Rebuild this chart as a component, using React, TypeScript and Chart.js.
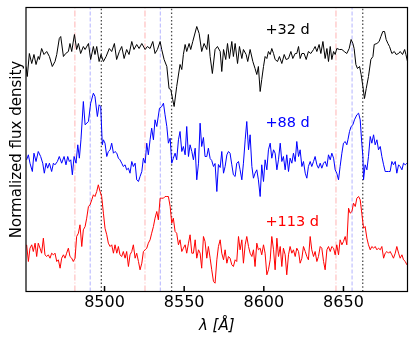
import React, { useEffect, useRef } from 'react';
import { Chart, registerables } from 'chart.js';

Chart.register(...registerables);

// ---- data (offset, normalized flux) ----
const waveBlack = [8450.7,8451.5,8452.8,8454.3,8455.7,8457.0,8458.4,8459.1,8460.5,8462.0,8463.7,8465.4,8467.2,8468.9,8470.0,8471.6,8472.5,8474.2,8475.6,8477.3,8478.3,8479.4,8481.1,8482.5,8483.6,8485.0,8486.7,8487.8,8489.9,8491.3,8493.0,8494.0,8495.1,8496.6,8497.8,8499.3,8501.0,8503.0,8504.5,8506.2,8507.6,8509.3,8510.8,8512.3,8513.9,8515.4,8517.1,8518.5,8520.2,8521.7,8523.4,8525.5,8526.9,8528.6,8530.3,8531.7,8533.2,8534.9,8535.9,8537.4,8539.1,8540.5,8541.6,8542.8,8543.7,8545.3,8547.4,8548.5,8549.5,8550.6,8551.6,8553.1,8554.1,8555.4,8557.9,8559.4,8561.0,8562.5,8564.2,8565.2,8566.3,8567.7,8569.4,8570.9,8572.6,8573.6,8574.7,8576.1,8577.2,8578.4,8579.9,8580.9,8582.0,8583.5,8584.7,8586.2,8587.2,8588.9,8589.9,8591.4,8593.1,8594.5,8595.6,8596.6,8597.7,8598.7,8599.8,8600.8,8601.9,8602.9,8604.0,8605.0,8606.1,8607.1,8608.6,8609.8,8611.3,8612.8,8614.0,8615.5,8617.0,8618.2,8619.7,8620.7,8621.8,8622.8,8623.9,8625.3,8626.6,8628.0,8629.5,8631.2,8632.2,8633.3,8634.7,8635.8,8637.1,8638.5,8639.6,8640.6,8641.7,8642.7,8643.8,8644.8,8645.8,8647.5,8649.0,8650.5,8652.1,8653.6,8654.8,8655.9,8656.7,8657.8,8658.8,8660.1,8661.1,8662.2,8663.2,8664.3,8665.7,8667.2,8668.5,8669.3,8671.0,8672.4,8673.5,8674.7,8675.8,8676.8,8677.9,8678.9,8680.4,8681.9,8683.1,8684.6,8685.6,8687.1,8688.4,8689.2,8690.2];
const fluxBlack = [2.25,2.15,2.38,2.28,2.37,2.27,2.35,2.32,2.43,2.37,2.40,2.35,2.25,2.30,2.37,2.53,2.55,2.35,2.38,2.40,2.48,2.40,2.57,2.42,2.48,2.38,2.45,2.42,2.48,2.32,2.45,2.37,2.45,2.30,2.37,2.30,2.35,2.43,2.40,2.48,2.32,2.40,2.45,2.33,2.42,2.37,2.50,2.42,2.47,2.43,2.48,2.42,2.45,2.43,2.50,2.38,2.42,2.50,2.42,2.32,2.25,2.03,2.02,1.92,1.85,2.05,2.27,2.22,2.37,2.47,2.40,2.48,2.42,2.50,2.65,2.58,2.40,2.48,2.42,2.57,2.35,2.18,2.42,2.45,2.40,2.20,2.42,2.32,2.48,2.33,2.50,2.35,2.48,2.28,2.45,2.33,2.42,2.37,2.30,2.42,2.30,2.23,2.17,2.25,2.00,2.12,2.25,2.35,2.33,2.40,2.37,2.43,2.38,2.32,2.30,2.35,2.28,2.37,2.32,2.33,2.40,2.33,2.38,2.38,2.45,2.33,2.38,2.38,2.32,2.40,2.38,2.42,2.45,2.40,2.47,2.38,2.50,2.33,2.43,2.30,2.45,2.32,2.40,2.37,2.43,2.42,2.42,2.40,2.38,2.43,2.52,2.48,2.43,2.27,2.23,2.25,2.17,2.05,1.93,2.03,2.15,2.32,2.35,2.47,2.48,2.50,2.55,2.60,2.60,2.52,2.48,2.45,2.38,2.40,2.37,2.38,2.40,2.37,2.42,2.37,2.30];

const waveBlue = [8451.1,8452.2,8453.2,8454.7,8455.7,8457.0,8458.4,8459.9,8461.2,8462.2,8463.3,8464.3,8465.4,8466.8,8467.9,8468.9,8470.4,8471.6,8473.1,8474.6,8475.8,8476.9,8477.9,8478.8,8479.8,8480.9,8482.1,8483.2,8484.2,8485.2,8486.7,8487.8,8489.9,8491.3,8493.0,8494.0,8495.5,8496.6,8497.6,8498.6,8499.3,8500.3,8501.4,8502.4,8503.5,8504.5,8505.6,8506.6,8507.7,8508.7,8509.7,8510.8,8511.8,8512.9,8513.9,8515.0,8516.0,8517.1,8518.1,8519.2,8520.2,8521.3,8522.3,8523.4,8524.4,8525.5,8526.5,8527.5,8528.6,8529.6,8530.7,8531.7,8532.8,8534.5,8535.9,8537.0,8538.0,8539.1,8540.1,8541.2,8542.2,8543.2,8544.3,8545.3,8546.4,8547.4,8548.5,8549.5,8550.6,8551.6,8552.7,8553.7,8554.8,8555.8,8556.9,8557.9,8559.0,8560.0,8561.0,8562.1,8563.1,8564.2,8565.2,8566.3,8567.3,8568.4,8569.4,8570.5,8571.5,8572.6,8573.6,8574.7,8575.7,8576.8,8577.8,8578.8,8579.9,8580.9,8582.0,8583.0,8584.1,8585.1,8586.2,8587.2,8588.3,8589.3,8590.4,8591.4,8592.5,8593.5,8594.5,8595.6,8596.6,8597.7,8598.7,8599.8,8600.8,8601.9,8602.9,8604.0,8605.0,8606.1,8607.1,8608.2,8609.2,8610.3,8611.3,8612.3,8613.4,8614.4,8615.5,8616.5,8617.6,8618.6,8619.7,8620.7,8621.8,8622.8,8623.9,8624.9,8626.0,8627.0,8628.0,8629.1,8630.1,8631.2,8632.2,8633.3,8634.3,8635.4,8636.4,8637.5,8638.5,8639.6,8640.6,8641.7,8642.7,8643.8,8644.8,8645.8,8646.9,8647.9,8649.0,8650.0,8651.1,8652.1,8652.8,8653.8,8654.8,8655.9,8656.9,8658.4,8659.5,8660.5,8661.5,8662.2,8662.6,8663.6,8664.7,8665.7,8666.8,8667.8,8668.9,8669.9,8671.0,8672.0,8673.1,8674.1,8675.2,8676.2,8677.3,8678.3,8679.3,8680.4,8681.4,8682.5,8683.5,8684.6,8685.6,8686.7,8687.7,8688.8,8689.8];
const fluxBlue = [1.317,1.367,1.283,1.200,1.383,1.300,1.400,1.350,1.283,1.183,1.283,1.233,1.283,1.200,1.283,1.267,1.300,1.350,1.283,1.350,1.267,1.350,1.300,1.317,1.167,1.350,1.283,1.467,1.333,1.517,1.900,1.667,1.700,1.883,1.983,1.950,1.750,1.867,1.850,1.467,1.517,1.483,1.350,1.400,1.417,1.483,1.383,1.400,1.383,1.333,1.317,1.283,1.250,1.267,1.217,1.233,1.183,1.300,1.250,1.283,1.117,1.100,1.150,1.200,1.333,1.283,1.483,1.367,1.517,1.633,1.517,1.717,1.650,1.833,1.850,1.883,1.767,1.650,1.483,1.533,1.283,1.333,1.383,1.317,1.517,1.600,1.400,1.450,1.367,1.650,1.350,1.467,1.400,1.317,1.433,1.117,1.283,1.683,1.450,1.540,1.350,1.350,1.433,1.330,1.310,1.250,1.280,1.000,1.270,1.240,1.400,1.183,1.250,1.367,1.400,1.383,1.267,1.167,1.150,1.283,1.300,1.217,1.117,1.283,1.517,1.700,1.417,1.567,1.250,1.133,1.183,1.217,1.117,0.950,1.267,1.100,1.317,1.217,1.417,1.483,1.333,1.417,1.383,1.217,1.317,1.483,1.300,1.350,1.217,1.367,1.200,1.333,1.283,1.383,1.300,1.500,1.350,1.417,1.250,1.300,1.183,1.133,1.250,1.300,1.250,1.300,1.350,1.267,1.233,1.283,1.233,1.283,1.300,1.250,1.367,1.317,1.383,1.333,1.217,1.183,1.117,1.250,1.383,1.483,1.500,1.467,1.517,1.600,1.650,1.667,1.717,1.767,1.783,1.717,1.483,1.350,1.117,1.267,1.217,1.350,1.550,1.483,1.567,1.467,1.517,1.417,1.450,1.350,1.267,1.200,1.200,1.200,1.200,1.300,1.267,1.300,1.183,1.267,1.250,1.217,1.283,1.267,1.283];

const waveRed = [8451.1,8452.2,8453.2,8454.3,8455.3,8456.4,8457.4,8458.4,8459.5,8460.5,8461.6,8462.6,8463.7,8464.7,8465.8,8466.8,8467.9,8468.9,8470.0,8471.0,8472.1,8473.1,8474.2,8475.2,8476.2,8477.3,8478.3,8479.4,8480.4,8481.5,8482.5,8483.6,8484.6,8485.7,8486.7,8487.8,8488.8,8489.9,8490.9,8492.0,8493.0,8494.0,8495.1,8496.1,8497.2,8498.2,8499.3,8500.3,8501.4,8502.4,8503.5,8504.5,8505.6,8506.6,8507.7,8508.7,8509.7,8510.8,8511.8,8512.9,8513.9,8515.0,8516.0,8517.1,8518.1,8519.2,8520.2,8521.3,8522.3,8523.4,8524.4,8525.5,8526.5,8527.5,8528.6,8529.6,8530.7,8531.7,8532.8,8533.8,8534.9,8535.9,8537.0,8538.0,8539.1,8540.1,8541.2,8542.2,8543.2,8544.3,8545.3,8546.4,8547.4,8548.5,8549.5,8550.6,8551.6,8552.7,8553.7,8554.8,8555.8,8556.9,8557.9,8559.0,8560.0,8561.0,8562.1,8563.1,8564.2,8565.2,8566.3,8567.3,8568.4,8569.4,8570.5,8571.5,8572.6,8573.6,8574.7,8575.7,8576.8,8577.8,8578.8,8579.9,8580.9,8582.0,8583.0,8584.1,8585.1,8586.2,8587.2,8588.3,8589.3,8590.4,8591.4,8592.5,8593.5,8594.5,8595.6,8596.6,8597.7,8598.7,8599.8,8600.8,8601.9,8602.9,8604.0,8605.0,8606.1,8607.1,8608.2,8609.2,8610.3,8611.3,8612.3,8613.4,8614.4,8615.5,8616.5,8617.6,8618.6,8619.7,8620.7,8621.8,8622.8,8623.9,8624.9,8626.0,8627.0,8628.0,8629.1,8630.1,8631.2,8632.2,8633.3,8634.3,8635.4,8636.4,8637.5,8638.5,8639.6,8640.6,8641.7,8642.7,8643.8,8644.8,8645.8,8646.9,8647.9,8649.0,8650.0,8651.1,8652.1,8653.2,8654.2,8655.3,8656.3,8657.4,8658.4,8659.5,8660.5,8661.5,8662.6,8663.6,8664.7,8665.7,8666.8,8667.8,8668.9,8669.9,8671.0,8672.0,8673.1,8674.1,8675.2,8676.2,8677.3,8678.3,8679.3,8680.4,8681.4,8682.5,8683.5,8684.6,8685.6,8686.7,8687.7,8688.8,8689.8];
const fluxRed = [0.467,0.300,0.433,0.467,0.400,0.483,0.350,0.483,0.433,0.383,0.533,0.367,0.350,0.367,0.333,0.383,0.367,0.383,0.300,0.317,0.233,0.333,0.367,0.333,0.383,0.433,0.350,0.333,0.300,0.333,0.550,0.583,0.667,0.450,0.617,0.650,0.733,0.850,0.867,0.917,0.967,0.950,1.000,1.067,1.000,0.950,0.783,0.633,0.567,0.483,0.450,0.467,0.383,0.467,0.383,0.450,0.367,0.350,0.400,0.333,0.400,0.250,0.367,0.400,0.467,0.333,0.383,0.300,0.217,0.283,0.400,0.417,0.433,0.483,0.517,0.583,0.650,0.733,0.800,0.717,0.933,0.933,0.933,0.950,0.950,0.950,0.850,0.683,0.733,0.600,0.583,0.467,0.517,0.400,0.433,0.467,0.383,0.483,0.567,0.383,0.383,0.517,0.333,0.417,0.383,0.233,0.550,0.500,0.333,0.450,0.333,0.217,0.100,0.083,0.317,0.450,0.517,0.383,0.317,0.417,0.283,0.350,0.333,0.267,0.250,0.317,0.300,0.550,0.417,0.517,0.283,0.467,0.550,0.450,0.383,0.350,0.417,0.250,0.483,0.417,0.433,0.367,0.467,0.383,0.167,0.217,0.317,0.550,0.417,0.217,0.533,0.350,0.450,0.250,0.433,0.367,0.167,0.367,0.450,0.383,0.417,0.350,0.433,0.400,0.283,0.333,0.450,0.400,0.350,0.317,0.550,0.417,0.350,0.400,0.300,0.350,0.450,0.433,0.300,0.217,0.417,0.450,0.400,0.450,0.433,0.367,0.467,0.367,0.517,0.467,0.500,0.550,0.467,0.833,0.783,0.800,0.883,0.850,0.933,0.950,0.917,0.783,0.633,0.650,0.533,0.467,0.417,0.450,0.433,0.450,0.417,0.433,0.417,0.450,0.333,0.383,0.400,0.383,0.400,0.367,0.333,0.383,0.450,0.383,0.333,0.367,0.317,0.300,0.267];

// Ca II triplet markers: high-velocity, photospheric, rest
const linesHighVel = [8481.4, 8525.4, 8645.3];
const linesPhot = [8491.0, 8535.0, 8655.4];
const linesRest = [8498.0, 8542.1, 8662.1];

const xTicks = [8500, 8550, 8600, 8650];
const xRange = [8450.7, 8690.2];
const yRange = [0, 2.84];

const epochLabels = ['+32 d', '+88 d', '+113 d'];
const epochColors = ['#000000', '#0000ff', '#ff0000'];
const labelWave = 8601;
const labelFlux = [2.61, 1.68, 0.69];

const FONT = "'DejaVu Sans', sans-serif";

function pairs(w: number[], f: number[]) {
  return w.map((x, i) => ({ x, y: f[i] }));
}

function vline(l: number, color: string, dash: number[], width: number) {
  return {
    data: [{ x: l, y: yRange[0] }, { x: l, y: yRange[1] }],
    borderColor: color,
    borderWidth: width,
    borderDash: dash,
    pointRadius: 0,
    order: 10,
  };
}

export default function App() {
  const ref = useRef<HTMLCanvasElement | null>(null);
  useEffect(() => {
    if (!ref.current) return;
    const decor = {
      id: 'decor',
      afterDraw(chart: any) {
        const { ctx, chartArea: a, scales } = chart;
        const xs = scales.x;
        const ys = scales.y;
        ctx.save();
        // frame
        ctx.strokeStyle = '#000';
        ctx.lineWidth = 1.2;
        ctx.strokeRect(a.left, a.top, a.right - a.left, a.bottom - a.top);
        // inward ticks
        ctx.lineWidth = 1.5;
        xTicks.forEach((t) => {
          const px = xs.getPixelForValue(t);
          ctx.beginPath();
          ctx.moveTo(px, a.bottom);
          ctx.lineTo(px, a.bottom - 5.5);
          ctx.stroke();
        });
        // epoch labels
        ctx.font = `14.5px ${FONT}`;
        ctx.textAlign = 'left';
        ctx.textBaseline = 'middle';
        epochLabels.forEach((s, i) => {
          ctx.fillStyle = epochColors[i];
          ctx.fillText(s, xs.getPixelForValue(labelWave), ys.getPixelForValue(labelFlux[i]));
        });
        // axis titles
        ctx.fillStyle = '#000';
        ctx.font = `italic 15px ${FONT}`;
        ctx.textAlign = 'center';
        ctx.textBaseline = 'alphabetic';
        ctx.fillText('λ [Å]', (a.left + a.right) / 2, 330);
        ctx.font = `15px ${FONT}`;
        ctx.translate(21, (a.top + a.bottom) / 2);
        ctx.rotate(-Math.PI / 2);
        ctx.fillText('Normalized flux density', 0, 0);
        ctx.restore();
      },
    };
    const chart = new Chart(ref.current, {
      type: 'line',
      data: {
        datasets: [
          ...linesHighVel.map((l) => vline(l, 'rgba(255,0,0,0.3)', [6, 2, 1, 2], 1)),
          ...linesPhot.map((l) => vline(l, 'rgba(0,0,255,0.3)', [4, 2], 1)),
          ...linesRest.map((l) => vline(l, 'rgba(0,0,0,0.7)', [1.5, 2.2], 1.3)),
          { data: pairs(waveBlack, fluxBlack), borderColor: '#000000', borderWidth: 1, pointRadius: 0, order: 1 },
          { data: pairs(waveBlue, fluxBlue), borderColor: '#0000ff', borderWidth: 1, pointRadius: 0, order: 1 },
          { data: pairs(waveRed, fluxRed), borderColor: '#ff0000', borderWidth: 1, pointRadius: 0, order: 1 },
        ] as any,
      },
      options: {
        animation: false,
        responsive: false,
        events: [],
        layout: { padding: { left: 0, top: 7.5, right: 7.5, bottom: 0 } },
        plugins: { legend: { display: false }, tooltip: { enabled: false } },
        elements: { line: { tension: 0 } },
        scales: {
          x: {
            type: 'linear',
            min: xRange[0],
            max: xRange[1],
            afterBuildTicks: (s: any) => {
              s.ticks = xTicks.map((v) => ({ value: v }));
            },
            afterFit: (s: any) => {
              s.height = 51.5;
            },
            grid: { display: false, drawTicks: false },
            border: { display: false },
            ticks: {
              color: '#000',
              padding: 2,
              maxRotation: 0,
              font: { family: FONT, size: 16 },
              callback: (v: any) => String(v),
            },
          },
          y: {
            type: 'linear',
            min: yRange[0],
            max: yRange[1],
            afterFit: (s: any) => {
              s.width = 26;
            },
            grid: { display: false, drawTicks: false },
            border: { display: false },
            ticks: { display: false },
          },
        },
      } as any,
      plugins: [decor],
    });
    return () => chart.destroy();
  }, []);
  return (
    <div style={{ position: 'absolute', left: 0, top: 0, width: 415, height: 343, background: '#fff' }}>
      <canvas ref={ref} width={415} height={343} style={{ width: 415, height: 343 }} />
    </div>
  );
}
